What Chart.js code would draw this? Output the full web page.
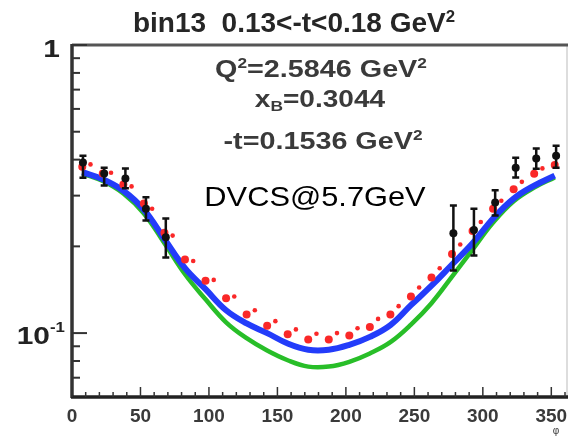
<!DOCTYPE html>
<html>
<head>
<meta charset="utf-8">
<script src="https://cdn.jsdelivr.net/npm/chart.js@4/dist/chart.umd.min.js"></script>
<style>
  html, body { margin: 0; padding: 0; background: #fff; }
  #wrap { position: relative; width: 570px; height: 436px; overflow: hidden; }
  canvas { position: absolute; left: 0; top: 0; }
  .t { position: absolute; white-space: nowrap; font-family: "Liberation Sans", Arial, Helvetica, sans-serif; transform-origin: 50% 50%; }
  .t sup { font-size: 0.6em; position: relative; top: -0.62em; vertical-align: baseline; }
  .t sub { font-size: 0.62em; position: relative; top: 0.3em; vertical-align: baseline; }
</style>
</head>
<body>
<div id="wrap">
  <canvas id="c" width="570" height="436"></canvas>
  <div class="t" style="left:294px; top:9px; font-size:28px; line-height:28px; font-weight:bold; color:#262626; transform:translateX(-50%);">bin13&nbsp; 0.13&lt;-t&lt;0.18 GeV<sup>2</sup></div>
  <div class="t" style="left:321px; top:58px; font-size:23px; line-height:23px; font-weight:bold; color:#3a3a3a; transform:translateX(-50%) scaleX(1.25);">Q<sup>2</sup>=2.5846 GeV<sup>2</sup></div>
  <div class="t" style="left:320px; top:88px; font-size:23px; line-height:23px; font-weight:bold; color:#3a3a3a; transform:translateX(-50%) scaleX(1.22);">x<sub>B</sub>=0.3044</div>
  <div class="t" style="left:323px; top:130px; font-size:23px; line-height:23px; font-weight:bold; color:#3a3a3a; transform:translateX(-50%) scaleX(1.25);">-t=0.1536 GeV<sup>2</sup></div>
  <div class="t" style="left:315px; top:183px; font-size:28px; line-height:28px; color:#000; transform:translateX(-50%) scaleX(1.1);">DVCS@5.7GeV</div>
</div>
<script>
// ---- data ----
const phiGrid = [7.5, 22.5, 37.5, 52.5, 67.5, 82.5, 97.5, 112.5, 127.5, 142.5, 157.5, 172.5,
                 187.5, 202.5, 217.5, 232.5, 247.5, 262.5, 277.5, 292.5, 307.5, 322.5, 337.5, 352.5];
const blueVals = [0.362, 0.342, 0.312, 0.268, 0.212, 0.168, 0.142, 0.120, 0.108, 0.100, 0.092, 0.0875,
                  0.0875, 0.091, 0.097, 0.1066, 0.125, 0.146, 0.173, 0.205, 0.250, 0.293, 0.325, 0.352];
const greenVals = [0.358, 0.337, 0.305, 0.260, 0.205, 0.160, 0.131, 0.109, 0.096, 0.087, 0.0805, 0.0765,
                   0.0765, 0.0795, 0.085, 0.093, 0.107, 0.127, 0.157, 0.195, 0.242, 0.287, 0.320, 0.347];
const redBlobVals = [0.378, 0.358, 0.328, 0.282, 0.223, 0.180, 0.152, 0.132, 0.116, 0.106, 0.099, 0.095,
                     0.095, 0.098, 0.105, 0.116, 0.134, 0.156, 0.188, 0.226, 0.270, 0.316, 0.357, 0.383];
const redDotPhi = [13.5, 28.5, 43.5, 58.5, 73.5, 88.5, 103.5, 118.5, 133.5, 148.5, 163.5, 178.5,
                   193.5, 208.5, 223.5, 238.5, 253.5, 268.5, 283.5, 298.5, 313.5, 328.5, 343.5];
const redDotVals = [0.385, 0.360, 0.323, 0.270, 0.218, 0.178, 0.153, 0.134, 0.120, 0.110, 0.103, 0.0995,
                    0.100, 0.104, 0.112, 0.124, 0.144, 0.168, 0.203, 0.243, 0.288, 0.335, 0.373];
const dataPhi = [8, 23.5, 39, 54, 68.5, 278.5, 293.5, 309, 324, 339, 353.5];
const dataVals = [0.391, 0.358, 0.344, 0.270, 0.215, 0.222, 0.228, 0.284, 0.375, 0.404, 0.413];
const dataLo   = [0.346, 0.325, 0.318, 0.246, 0.183, 0.165, 0.186, 0.256, 0.347, 0.372, 0.375];
const dataHi   = [0.413, 0.375, 0.373, 0.296, 0.250, 0.277, 0.270, 0.313, 0.406, 0.437, 0.447];
const xTickMajor = [0, 50, 100, 150, 200, 250, 300, 350];
const xTickLabels = ["0", "50", "100", "150", "200", "250", "300", "350"];
const yMinorTicks = [0.07, 0.08, 0.09, 0.2, 0.3, 0.4, 0.5, 0.6, 0.7, 0.8, 0.9];
const yMajorTicks = [0.1, 1];

const pts = (xs, ys) => xs.map((x, i) => ({x: x, y: ys[i]}));

const FONT = '"Liberation Sans", Arial, Helvetica, sans-serif';

const framePlugin = {
  id: 'frame',
  afterDraw(chart) {
    const ctx = chart.ctx;
    const a = chart.chartArea;
    const xs = chart.scales.x, ys = chart.scales.y;
    ctx.save();
    // error bars
    ctx.strokeStyle = '#111';
    ctx.lineWidth = 2.5;
    dataPhi.forEach((p, i) => {
      const px = xs.getPixelForValue(p);
      const y1 = ys.getPixelForValue(dataLo[i]);
      const y2 = ys.getPixelForValue(dataHi[i]);
      ctx.beginPath();
      ctx.moveTo(px, y1); ctx.lineTo(px, y2);
      ctx.moveTo(px - 3.5, y1); ctx.lineTo(px + 3.5, y1);
      ctx.moveTo(px - 3.5, y2); ctx.lineTo(px + 3.5, y2);
      ctx.stroke();
    });
    // frame
    ctx.lineCap = 'butt';
    ctx.strokeStyle = '#bbb'; ctx.lineWidth = 1;
    ctx.beginPath(); ctx.moveTo(a.right + 2, a.top); ctx.lineTo(a.right + 2, a.bottom); ctx.stroke();
    ctx.strokeStyle = '#555'; ctx.lineWidth = 3;
    ctx.beginPath(); ctx.moveTo(a.left, a.top); ctx.lineTo(a.right + 3, a.top); ctx.stroke();
    ctx.strokeStyle = '#333'; ctx.lineWidth = 3.5;
    ctx.beginPath(); ctx.moveTo(a.left, a.top - 1); ctx.lineTo(a.left, a.bottom + 1); ctx.stroke();
    ctx.strokeStyle = '#222'; ctx.lineWidth = 3.5;
    ctx.beginPath(); ctx.moveTo(a.left - 1, a.bottom); ctx.lineTo(a.right + 3, a.bottom); ctx.stroke();
    // x ticks
    ctx.strokeStyle = '#333'; ctx.lineWidth = 1.5;
    for (let v = 0; v <= 360; v += 10) {
      const px = xs.getPixelForValue(v);
      const len = (v % 50 === 0) ? 10 : 5;
      ctx.beginPath(); ctx.moveTo(px, a.bottom); ctx.lineTo(px, a.bottom - len); ctx.stroke();
    }
    // y ticks
    ctx.lineWidth = 2;
    yMinorTicks.forEach(v => {
      const py = ys.getPixelForValue(v);
      ctx.beginPath(); ctx.moveTo(a.left, py); ctx.lineTo(a.left + 8, py); ctx.stroke();
    });
    yMajorTicks.forEach(v => {
      const py = ys.getPixelForValue(v);
      ctx.beginPath(); ctx.moveTo(a.left, py); ctx.lineTo(a.left + 15, py); ctx.stroke();
    });
    // x labels
    ctx.fillStyle = '#3a3a3a';
    ctx.font = 'bold 19px ' + FONT;
    ctx.textAlign = 'center';
    ctx.textBaseline = 'alphabetic';
    xTickMajor.forEach((v, i) => {
      ctx.fillText(xTickLabels[i], xs.getPixelForValue(v), 422);
    });
    // phi label
    ctx.font = '10px ' + FONT;
    ctx.fillText('\u03c6', 556, 434);
    // y labels
    ctx.fillStyle = '#222';
    ctx.font = 'bold 23px ' + FONT;
    ctx.textAlign = 'right';
    const y1 = ys.getPixelForValue(1);
    ctx.save(); ctx.translate(60, y1 + 12); ctx.scale(1.3, 1); ctx.fillText('1', 0, 0); ctx.restore();
    const y01 = ys.getPixelForValue(0.1);
    ctx.save(); ctx.translate(50, y01 + 11); ctx.scale(1.3, 1); ctx.fillText('10', 0, 0); ctx.restore();
    ctx.font = 'bold 14px ' + FONT;
    ctx.textAlign = 'left';
    ctx.save(); ctx.translate(50, y01 - 1); ctx.scale(1.2, 1); ctx.fillText('-1', 0, 0); ctx.restore();
    ctx.restore();
  }
};

new Chart(document.getElementById('c'), {
  type: 'scatter',
  data: {
    datasets: [
      { label: 'data', data: pts(dataPhi, dataVals), showLine: false,
        pointRadius: 4, pointBackgroundColor: '#111', pointBorderColor: '#111', pointBorderWidth: 0 },
      { label: 'red dots', data: pts(redDotPhi, redDotVals), showLine: false,
        pointRadius: 2.3, pointBackgroundColor: 'rgb(250,40,40)', pointBorderWidth: 0 },
      { label: 'red', data: pts(phiGrid, redBlobVals), showLine: false,
        pointRadius: 4, pointBackgroundColor: 'rgb(250,40,40)', pointBorderWidth: 0 },
      { label: 'blue', data: pts(phiGrid, blueVals), showLine: true, pointRadius: 0,
        borderColor: 'rgb(35,60,250)', borderWidth: 6, tension: 0.4 },
      { label: 'green', data: pts(phiGrid, greenVals), showLine: true, pointRadius: 0,
        borderColor: 'rgb(40,190,40)', borderWidth: 4.5, tension: 0.4 }
    ]
  },
  options: {
    responsive: false,
    animation: false,
    events: [],
    layout: { padding: { left: 72, top: 45, right: 5, bottom: 39 } },
    plugins: { legend: { display: false }, tooltip: { enabled: false }, title: { display: false } },
    scales: {
      x: { type: 'linear', min: 0, max: 360, display: false },
      y: { type: 'logarithmic', min: 0.06, max: 1, display: false }
    }
  },
  plugins: [framePlugin]
});
</script>
</body>
</html>
